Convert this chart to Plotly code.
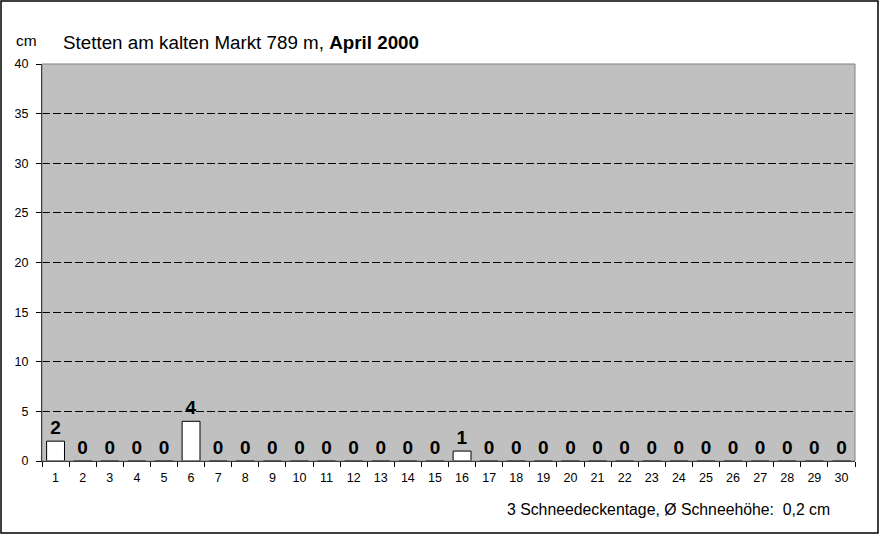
import plotly.graph_objects as go

days = [str(d) for d in range(1, 31)]
snow = [2, 0, 0, 0, 0, 4, 0, 0, 0, 0, 0, 0, 0, 0, 0, 1, 0, 0, 0, 0, 0, 0, 0, 0, 0, 0, 0, 0, 0, 0]
title_main = "Stetten am kalten Markt 789 m, "
title_bold = "April 2000"
footer = "3 Schneedeckentage, Ø Schneehöhe:  0,2 cm"
unit = "cm"

W, H = 882, 535
L, R, T, B = 42, 855, 64, 461
pw, ph = R - L, B - T

def px(x):
    return (x - L) / pw

def py(y):
    return (B - y) / ph

fig = go.Figure()
fig.add_trace(go.Bar(
    x=days, y=snow,
    marker=dict(color="white", line=dict(color="black", width=1)),
    width=0.66,
    text=[str(v) for v in snow],
    textposition="outside",
    textfont=dict(family="Liberation Sans, Arial", size=19, color="black", weight="bold"),
    cliponaxis=False,
))

fig.update_layout(
    width=W, height=H,
    margin=dict(l=L, r=W - R, t=T, b=H - B),
    paper_bgcolor="white",
    plot_bgcolor="#C0C0C0",
    showlegend=False,
    font=dict(family="Liberation Sans, Arial", size=12, color="black"),
    xaxis=dict(type="category", tickson="boundaries", ticks="outside", ticklen=5,
               tickcolor="black", showline=True, linecolor="black", linewidth=1,
               showgrid=False, tickfont=dict(size=12.5), ticklabelstandoff=5,
               fixedrange=True),
    yaxis=dict(range=[0, 40], dtick=5, ticks="outside", ticklen=5, tickcolor="black",
               showline=True, linecolor="black", linewidth=1,
               showgrid=True, gridcolor="black", griddash="8px,3px", gridwidth=1,
               zeroline=False, tickfont=dict(size=12.5), ticklabelstandoff=5,
               fixedrange=True),
)

# plot-area border
fig.add_shape(type="rect", xref="paper", yref="paper", x0=0, x1=1, y0=0, y1=1,
              line=dict(color="#808080", width=1), layer="above")
# outer figure border
fig.add_shape(type="rect", xref="paper", yref="paper",
              x0=px(1), x1=px(878), y0=py(533), y1=py(1),
              line=dict(color="black", width=1.5), layer="above")

fig.add_annotation(xref="paper", yref="paper", x=px(61), y=py(42),
                   xanchor="left", yanchor="middle", showarrow=False,
                   text=title_main + "<b>" + title_bold + "</b>",
                   font=dict(size=18.8, color="black"))
fig.add_annotation(xref="paper", yref="paper", x=px(14), y=py(40),
                   xanchor="left", yanchor="middle", showarrow=False,
                   text=unit, font=dict(size=15.5, color="black"))
fig.add_annotation(xref="paper", yref="paper", x=px(832), y=py(509),
                   xanchor="right", yanchor="middle", showarrow=False,
                   text=footer, font=dict(size=15.8, color="black"))

fig.write_html("out.html", config={"displayModeBar": False},
               post_script="document.body.style.margin='0';")
